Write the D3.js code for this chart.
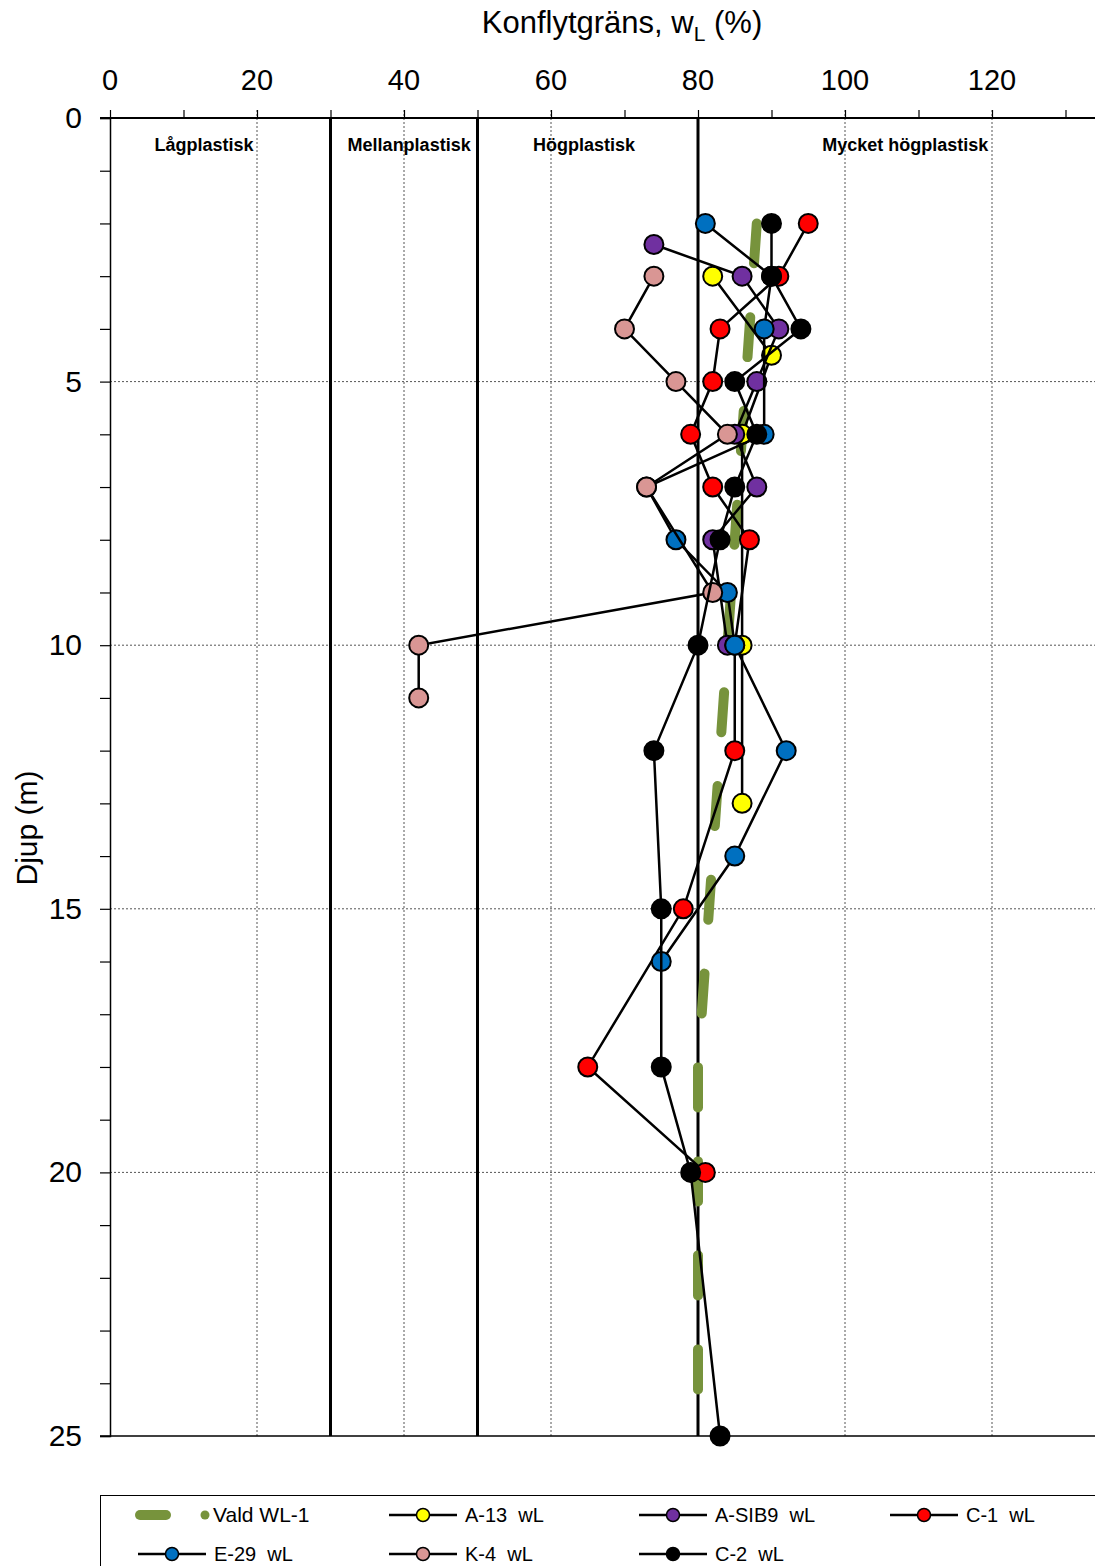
<!DOCTYPE html>
<html>
<head>
<meta charset="utf-8">
<script src="https://cdn.jsdelivr.net/npm/d3@7"></script>
<style>
  body { margin: 0; background: #fff; }
  svg { display: block; font-family: "Liberation Sans", Arial, sans-serif; }
</style>
</head>
<body>
<div id="chart"></div>
<script>
// depth (m) and liquid limit wL (%) per borehole
var valdDepth = [2, 10, 18, 25];
var valdWL = [88, 84, 80, 80];

var a13Depth = [3, 4.5, 6, 10, 13];
var a13WL = [82, 90, 86, 86, 86];

var sib9Depth = [2.4, 3, 4, 5, 6, 7, 8, 10];
var sib9WL = [74, 86, 91, 88, 85, 88, 82, 84];

var c1Depth = [2, 3, 4, 5, 6, 7, 8, 10, 12, 15, 18, 20];
var c1WL = [95, 91, 83, 82, 79, 82, 87, 85, 85, 78, 65, 81];

var e29Depth = [2, 3, 4, 6, 7, 8, 9, 10, 12, 14, 16];
var e29WL = [81, 90, 89, 89, 73, 77, 84, 85, 92, 85, 75];

var k4Depth = [3, 4, 5, 6, 7, 9, 10, 11];
var k4WL = [74, 70, 77, 84, 73, 82, 42, 42];

var c2Depth = [2, 3, 4, 5, 6, 7, 8, 10, 12, 15, 18, 20, 25];
var c2WL = [90, 90, 94, 85, 88, 85, 83, 80, 74, 75, 75, 79, 83];

var xTicks = [0, 20, 40, 60, 80, 100, 120];
var yTicks = [0, 5, 10, 15, 20, 25];
var boundaries = [30, 50, 80];
var zoneNames = ["Lågplastisk", "Mellanplastisk", "Högplastisk", "Mycket högplastisk"];
var zoneCenters = [12.8, 40.7, 64.5, 108.2];

var series = [
  { name: "A-13  wL", depth: a13Depth, wl: a13WL, color: "#ffff00" },
  { name: "A-SIB9  wL", depth: sib9Depth, wl: sib9WL, color: "#7030a0" },
  { name: "C-1  wL", depth: c1Depth, wl: c1WL, color: "#ff0000" },
  { name: "E-29  wL", depth: e29Depth, wl: e29WL, color: "#0070c0" },
  { name: "K-4  wL", depth: k4Depth, wl: k4WL, color: "#d99694" },
  { name: "C-2  wL", depth: c2Depth, wl: c2WL, color: "#000000" }
];
var green = "#77933c";

var width = 1095, height = 1566;
var svg = d3.select("#chart").append("svg").attr("width", width).attr("height", height);

var x = d3.scaleLinear().domain([0, 140]).range([110, 1139]);
var y = d3.scaleLinear().domain([0, 25]).range([118, 1436]);

// gridlines
svg.append("g").selectAll("line").data([20, 40, 60, 100, 120])
  .enter().append("line")
  .attr("x1", function (d) { return x(d); }).attr("x2", function (d) { return x(d); })
  .attr("y1", y(0) - 8).attr("y2", y(25))
  .style("stroke", "#555").style("stroke-width", 1).style("stroke-dasharray", "2,2");
svg.append("g").selectAll("line").data([5, 10, 15, 20])
  .enter().append("line")
  .attr("x1", x(0)).attr("x2", width)
  .attr("y1", function (d) { return y(d); }).attr("y2", function (d) { return y(d); })
  .style("stroke", "#555").style("stroke-width", 1).style("stroke-dasharray", "2,2");

// top axis
var xAxis = d3.axisTop(x).tickValues(d3.range(0, 141, 10)).tickSize(8).tickFormat("");
var gx = svg.append("g").attr("transform", "translate(0," + y(0) + ")").call(xAxis);
gx.select(".domain").remove();
gx.selectAll("line").style("stroke", "#000").style("stroke-width", 1.2);
svg.append("line").attr("x1", x(0) - 10).attr("x2", width).attr("y1", y(0)).attr("y2", y(0))
  .style("stroke", "#000").style("stroke-width", 2);
svg.append("g").selectAll("text").data(xTicks).enter().append("text")
  .attr("x", function (d) { return x(d); }).attr("y", 90)
  .attr("text-anchor", "middle").style("font-size", "29px")
  .text(function (d) { return d; });

// bottom line
svg.append("line").attr("x1", x(0) - 10).attr("x2", width).attr("y1", y(25)).attr("y2", y(25))
  .style("stroke", "#000").style("stroke-width", 1.5);

// left axis, tick every metre
var yAxis = d3.axisLeft(y).tickValues(d3.range(0, 26, 1)).tickSize(10).tickFormat("");
var gy = svg.append("g").attr("transform", "translate(" + x(0) + ",0)").call(yAxis);
gy.select(".domain").style("stroke", "#000").style("stroke-width", 1.5);
gy.selectAll("line").style("stroke", "#000").style("stroke-width", 1.2);
svg.append("g").selectAll("text").data(yTicks).enter().append("text")
  .attr("x", 82).attr("y", function (d) { return y(d) + 10; })
  .attr("text-anchor", "end").style("font-size", "30px")
  .text(function (d) { return d; });

// class boundaries
svg.append("g").selectAll("line").data(boundaries).enter().append("line")
  .attr("x1", function (d) { return x(d); }).attr("x2", function (d) { return x(d); })
  .attr("y1", y(0)).attr("y2", y(25))
  .style("stroke", "#000").style("stroke-width", 3);

svg.append("g").selectAll("text").data(zoneNames).enter().append("text")
  .attr("x", function (d, i) { return x(zoneCenters[i]); }).attr("y", 151)
  .attr("text-anchor", "middle")
  .style("font-family", "'Liberation Sans Narrow', 'Liberation Sans', Arial, sans-serif")
  .style("font-weight", "bold").style("font-size", "18px")
  .text(function (d) { return d; });

// titles
var title = svg.append("text").attr("x", 622).attr("y", 33).attr("text-anchor", "middle").style("font-size", "31px");
title.append("tspan").text("Konflytgräns, w");
title.append("tspan").attr("dy", 8).style("font-size", "21px").text("L");
title.append("tspan").attr("dy", -8).text(" (%)");

svg.append("text").attr("transform", "translate(37,828) rotate(-90)")
  .attr("text-anchor", "middle").style("font-size", "30px").text("Djup (m)");

// Vald WL-1
var line = d3.line().x(function (d) { return x(d[0]); }).y(function (d) { return y(d[1]); });
svg.append("path").datum(d3.zip(valdWL, valdDepth)).attr("d", line)
  .style("fill", "none").style("stroke", green).style("stroke-width", 10)
  .style("stroke-linecap", "round").style("stroke-dasharray", "40,54");

// series
series.forEach(function (s) {
  var pts = d3.zip(s.wl, s.depth);
  var g = svg.append("g");
  g.append("path").datum(pts).attr("d", line)
    .style("fill", "none").style("stroke", "#000").style("stroke-width", 2.5);
  g.selectAll("circle").data(pts).enter().append("circle")
    .attr("cx", function (d) { return x(d[0]); }).attr("cy", function (d) { return y(d[1]); })
    .attr("r", 9.5).style("fill", s.color).style("stroke", "#000").style("stroke-width", 2);
});

// legend
var lg = svg.append("g");
lg.append("rect").attr("x", 100.5).attr("y", 1495.5).attr("width", 1000).attr("height", 100)
  .style("fill", "#fff").style("stroke", "#000").style("stroke-width", 1);
lg.append("line").attr("x1", 140).attr("x2", 166).attr("y1", 1515).attr("y2", 1515)
  .style("stroke", green).style("stroke-width", 10).style("stroke-linecap", "round");
lg.append("circle").attr("cx", 205).attr("cy", 1515).attr("r", 4.5).style("fill", green);
lg.append("text").attr("x", 213).attr("y", 1522).style("font-size", "21px").text("Vald WL-1");

var legCols = [389, 639, 890, 138, 389, 639];
var legRows = [1515, 1515, 1515, 1554, 1554, 1554];
series.forEach(function (s, i) {
  var lx = legCols[i], ly = legRows[i];
  lg.append("line").attr("x1", lx).attr("x2", lx + 68).attr("y1", ly).attr("y2", ly)
    .style("stroke", "#000").style("stroke-width", 2.5);
  lg.append("circle").attr("cx", lx + 34).attr("cy", ly).attr("r", 6.5)
    .style("fill", s.color).style("stroke", "#000").style("stroke-width", 1.5);
  lg.append("text").attr("x", lx + 76).attr("y", ly + 7).style("font-size", "20px")
    .style("white-space", "pre").text(s.name);
});
</script>
</body>
</html>
